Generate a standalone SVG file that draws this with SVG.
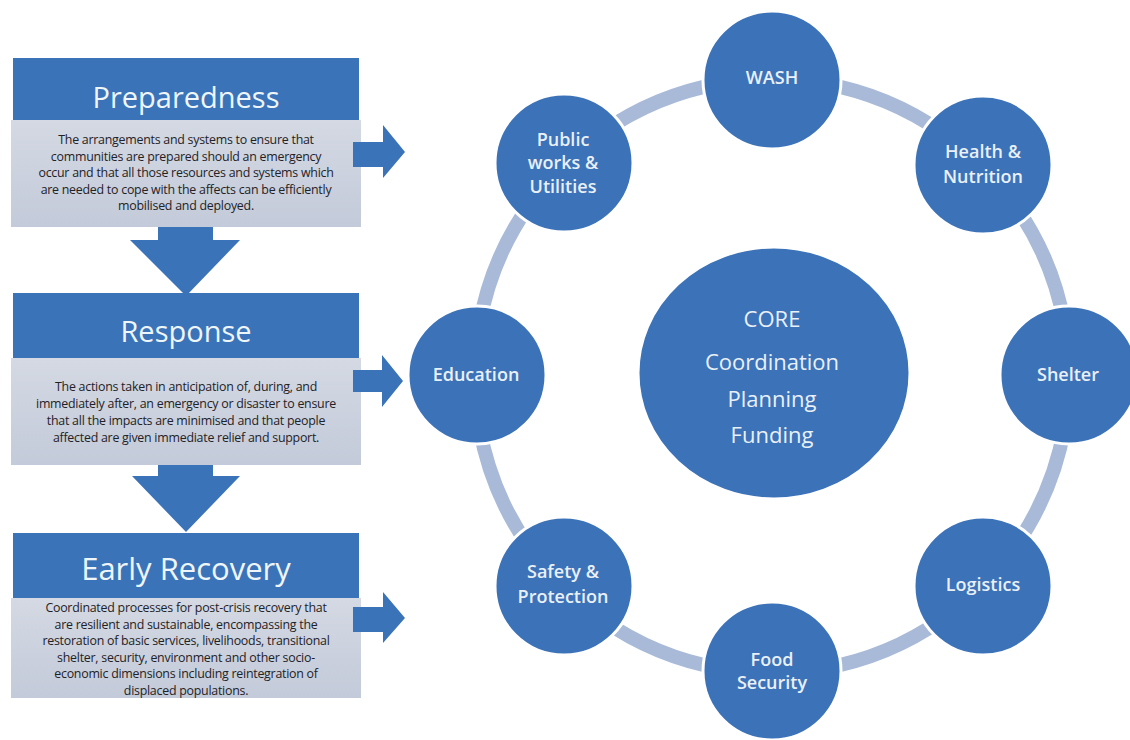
<svg xmlns="http://www.w3.org/2000/svg" width="1130" height="740" viewBox="0 0 1130 740">
<defs>
<linearGradient id="bodyGrad" x1="0" y1="0" x2="0" y2="1">
<stop offset="0" stop-color="#d4d9e3"/>
<stop offset="1" stop-color="#c3cad9"/>
</linearGradient>
<style>
.hdr{fill:#3b73b9}
.body{fill:url(#bodyGrad)}
.arrow{fill:#3b73b9}
.htxt{font-family:"Open Sans","DejaVu Sans",sans-serif;fill:#eef6fa;text-anchor:middle}
.btxt{font-family:"Open Sans","DejaVu Sans",sans-serif;font-size:12.4px;letter-spacing:-0.25px;fill:#1f2226;text-anchor:middle}
.node{fill:#3b72b8;stroke:#ffffff;stroke-width:3}
.ntxt{font-family:"Open Sans","DejaVu Sans",sans-serif;font-weight:600;font-size:18px;fill:#e9f0f9;text-anchor:middle}
.ctxt{font-family:"Open Sans","DejaVu Sans",sans-serif;font-size:22px;fill:#e9f0f9;text-anchor:middle}
.arc{fill:none;stroke:#a8bad8;stroke-width:14}
</style>
</defs>
<rect width="1130" height="740" fill="#ffffff"/>

<g id="preparedness">
<rect class="hdr" x="13" y="58" width="346" height="62"/>
<rect class="body" x="11" y="120" width="350" height="107"/>
<text class="htxt" x="186" y="108" font-size="29">Preparedness</text>
<text class="btxt" x="186" y="144">The arrangements and systems to ensure that</text>
<text class="btxt" x="186" y="160.6">communities are prepared should an emergency</text>
<text class="btxt" x="186" y="177.2">occur and that all those resources and systems which</text>
<text class="btxt" x="186" y="193.8">are needed to cope with the affects can be efficiently</text>
<text class="btxt" x="186" y="210.4">mobilised and deployed.</text>
</g>

<g id="response">
<rect class="hdr" x="13" y="293" width="346" height="65"/>
<rect class="body" x="11" y="358" width="350" height="107"/>
<text class="htxt" x="186" y="342" font-size="29">Response</text>
<text class="btxt" x="186" y="391">The actions taken in anticipation of, during, and</text>
<text class="btxt" x="186" y="408">immediately after, an emergency or disaster to ensure</text>
<text class="btxt" x="186" y="425">that all the impacts are minimised and that people</text>
<text class="btxt" x="186" y="442">affected are given immediate relief and support.</text>
</g>

<g id="early-recovery">
<rect class="hdr" x="13" y="533" width="346" height="65"/>
<rect class="body" x="11" y="598" width="350" height="100"/>
<text class="htxt" x="186" y="580" font-size="31">Early Recovery</text>
<text class="btxt" x="186" y="612">Coordinated processes for post-crisis recovery that</text>
<text class="btxt" x="186" y="628.5">are resilient and sustainable, encompassing the</text>
<text class="btxt" x="186" y="645">restoration of basic services, livelihoods, transitional</text>
<text class="btxt" x="186" y="661.5">shelter, security, environment and other socio-</text>
<text class="btxt" x="186" y="678">economic dimensions including reintegration of</text>
<text class="btxt" x="186" y="694.5">displaced populations.</text>
</g>

<g id="arrows">
<polygon class="arrow" points="158,227 213,227 213,240 240,240 186,296 130,240 158,240"/>
<polygon class="arrow" points="158,465 213,465 213,476 240,476 186,532 132,476 158,476"/>
<polygon class="arrow" points="353,142 383,142 383,125 405,152 383,178 383,167 353,167"/>
<polygon class="arrow" points="353,370 382,370 382,355 403,381 382,407 382,392 353,392"/>
<polygon class="arrow" points="353,607 383,607 383,592 405,618 383,643 383,632 353,632"/>
</g>

<g id="connectors">
<path class="arc" d="M823.57,83.51 A297,297 0 0 1 942.35,132.71"/>
<path class="arc" d="M1015.29,205.65 A297,297 0 0 1 1064.49,324.43"/>
<path class="arc" d="M1064.49,427.57 A297,297 0 0 1 1015.29,546.35"/>
<path class="arc" d="M942.35,619.29 A297,297 0 0 1 823.57,668.49"/>
<path class="arc" d="M720.43,668.49 A297,297 0 0 1 601.65,619.29"/>
<path class="arc" d="M528.71,546.35 A297,297 0 0 1 479.51,427.57"/>
<path class="arc" d="M479.51,324.43 A297,297 0 0 1 528.71,205.65"/>
<path class="arc" d="M601.65,132.71 A297,297 0 0 1 720.43,83.51"/>
</g>

<g id="core">
<ellipse class="node" cx="774" cy="373" rx="136" ry="126"/>
<text class="ctxt" x="772" y="327" font-size="28">CORE</text>
<text class="ctxt" x="772" y="370">Coordination</text>
<text class="ctxt" x="772" y="407">Planning</text>
<text class="ctxt" x="772" y="443">Funding</text>
</g>

<g id="wash">
<circle class="node" cx="772" cy="80" r="69"/>
<text class="ntxt" x="772" y="84">WASH</text>
</g>
<g id="health-nutrition">
<circle class="node" cx="983" cy="165" r="69"/>
<text class="ntxt" x="983" y="158">Health &amp;</text>
<text class="ntxt" x="983" y="183">Nutrition</text>
</g>
<g id="shelter">
<circle class="node" cx="1069" cy="375" r="69"/>
<text class="ntxt" x="1068" y="381">Shelter</text>
</g>
<g id="logistics">
<circle class="node" cx="983" cy="586" r="69"/>
<text class="ntxt" x="983" y="591">Logistics</text>
</g>
<g id="food-security">
<circle class="node" cx="772" cy="671" r="69"/>
<text class="ntxt" x="772" y="666">Food</text>
<text class="ntxt" x="772" y="689">Security</text>
</g>
<g id="safety-protection">
<circle class="node" cx="564" cy="586" r="69"/>
<text class="ntxt" x="563" y="578">Safety &amp;</text>
<text class="ntxt" x="563" y="603">Protection</text>
</g>
<g id="education">
<circle class="node" cx="477" cy="375" r="69"/>
<text class="ntxt" x="476" y="381">Education</text>
</g>
<g id="public-works">
<circle class="node" cx="564" cy="163" r="69"/>
<text class="ntxt" x="563" y="146">Public</text>
<text class="ntxt" x="563" y="169">works &amp;</text>
<text class="ntxt" x="563" y="193">Utilities</text>
</g>
</svg>
